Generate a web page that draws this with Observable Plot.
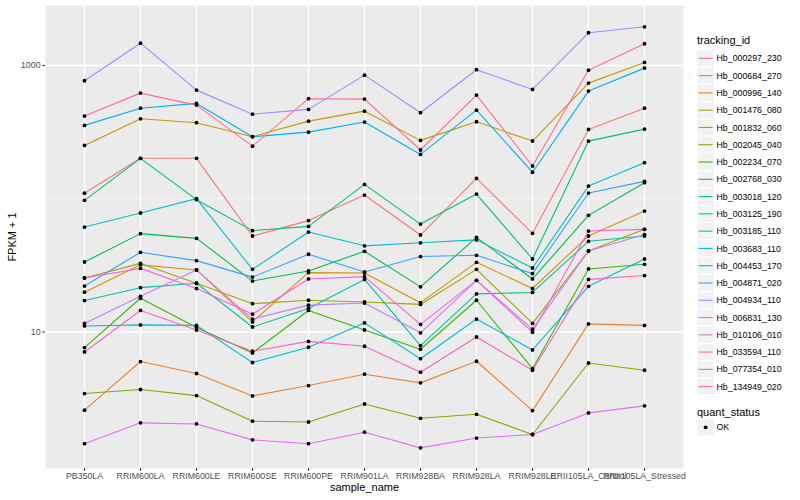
<!DOCTYPE html>
<html>
<head>
<meta charset="utf-8">
<script src="https://cdn.jsdelivr.net/npm/d3@7"></script>
<script src="https://cdn.jsdelivr.net/npm/@observablehq/plot@0.6"></script>
<style>
  html, body { margin: 0; padding: 0; background: white; }
  #wrap { position: relative; width: 800px; height: 500px; font-family: 'Liberation Sans', Arial, sans-serif; }
  #legend { position: absolute; left: 690px; top: 0; }
</style>
</head>
<body>
<div id="wrap"><div id="chart"></div><div id="legend"></div></div>
<script>
const samples = ["PB350LA","RRIM600LA","RRIM600LE","RRIM600SE","RRIM600PE","RRIM901LA","RRIM928BA","RRIM928LA","RRIM928LE","RRII105LA_Control","RRII105LA_Stressed"];

const ids = ["Hb_000297_230","Hb_000684_270","Hb_000996_140","Hb_001476_080","Hb_001832_060","Hb_002045_040","Hb_002234_070","Hb_002768_030","Hb_003018_120","Hb_003125_190","Hb_003185_110","Hb_003683_110","Hb_004453_170","Hb_004871_020","Hb_004934_110","Hb_006831_130","Hb_010106_010","Hb_033594_110","Hb_077354_010","Hb_134949_020"];

const palette = ["#F8766D","#EA8331","#D89000","#C09B00","#A3A500","#7CAE00","#39B600","#00BB4E","#00BF7D","#00C1A3","#00BFC4","#00BAE0","#00B0F6","#35A2FF","#9590FF","#C77CFF","#E76BF3","#FA62DB","#FF62BC","#FF6C91"];

// FPKM + 1 per sample, in the order of `samples`
const Hb_000297_230 = [110, 201, 201, 52.5, 68.5, 106.5, 53.4, 142, 55.0, 331, 478];
const Hb_000684_270 = [2.59, 6.0, 4.88, 3.31, 3.96, 4.82, 4.15, 6.03, 2.57, 11.5, 11.2];
const Hb_000996_140 = [19.9, 31.9, 29.2, 11.9, 27.9, 27.7, 16.6, 33.3, 21.2, 52.5, 80.8];
const Hb_001476_080 = [251, 398, 372, 292, 382, 454, 274, 378, 271, 737, 1053];
const Hb_001832_060 = [25.4, 32.7, 23.2, 16.3, 17.3, 16.8, 16.1, 29.5, 11.6, 40.5, 58.9];
const Hb_002045_040 = [3.45, 3.70, 3.33, 2.14, 2.11, 2.88, 2.25, 2.41, 1.70, 5.85, 5.16];
const Hb_002234_070 = [7.64, 17.9, 10.8, 6.96, 14.5, 10.35, 7.42, 17.3, 5.31, 29.7, 32.2];
const Hb_002768_030 = [33.5, 54.7, 50.4, 24.1, 28.7, 40.3, 21.8, 51.3, 25.0, 75.0, 131.9];
const Hb_003018_120 = [97.2, 200.7, 98.4, 57.6, 62.0, 128.1, 64.5, 108.4, 35.3, 270.6, 333];
const Hb_003125_190 = [17.2, 21.5, 23.2, 10.9, 15.0, 24.8, 7.9, 19.3, 19.8, 47.9, 52.5];
const Hb_003185_110 = [61.3, 78.1, 100.1, 29.5, 56.2, 44.3, 46.7, 49.1, 30.2, 124.4, 186.3];
const Hb_003683_110 = [11.1, 11.3, 11.2, 5.9, 7.68, 11.7, 6.3, 12.5, 7.33, 22.0, 35.3];
const Hb_004453_170 = [355, 478, 519, 292, 316, 376, 215, 462, 158, 642, 955];
const Hb_004871_020 = [22.1, 39.6, 34.3, 25.8, 38.3, 28.2, 36.8, 37.6, 27.4, 110.3, 134.9];
const Hb_004934_110 = [768, 1469, 653, 431, 468, 846, 442, 929, 661, 1759, 1951];
const Hb_006831_130 = [11.6, 18.5, 29.2, 12.5, 15.9, 16.5, 9.86, 24.4, 10.5, 40.5, 53.8];
const Hb_010106_010 = [1.45, 2.08, 2.04, 1.55, 1.45, 1.77, 1.35, 1.60, 1.70, 2.47, 2.79];
const Hb_033594_110 = [25.4, 30.0, 21.2, 13.6, 25.0, 26.0, 11.4, 24.4, 9.95, 57.2, 58.9];
const Hb_077354_010 = [7.08, 14.5, 10.35, 7.17, 8.5, 7.81, 4.99, 9.17, 5.16, 24.8, 26.5];
const Hb_134949_020 = [417, 620, 504, 248, 563, 559, 232, 599, 176, 922, 1455];

const yTicks = [10, 1000];
const yMinor = [100];

const seriesList = [Hb_000297_230, Hb_000684_270, Hb_000996_140, Hb_001476_080, Hb_001832_060, Hb_002045_040, Hb_002234_070, Hb_002768_030, Hb_003018_120, Hb_003125_190, Hb_003185_110, Hb_003683_110, Hb_004453_170, Hb_004871_020, Hb_004934_110, Hb_006831_130, Hb_010106_010, Hb_033594_110, Hb_077354_010, Hb_134949_020];

const rows = [];
ids.forEach((id, i) => samples.forEach((s, j) => rows.push({id, sample: s, fpkm: seriesList[i][j]})));

const font = "'Liberation Sans', Arial, sans-serif";

const chart = Plot.plot({
  width: 800, height: 500,
  marginLeft: 45, marginRight: 117, marginTop: 5, marginBottom: 32,
  style: {fontFamily: font, fontSize: "8.8px", background: "white", overflow: "visible"},
  x: {type: "point", domain: samples, padding: 0.6, axis: null},
  y: {type: "log", domain: [0.945, 2818], axis: null},
  color: {domain: ids, range: palette},
  marks: [
    Plot.frame({fill: "#EBEBEB", stroke: null}),
    Plot.gridY(yMinor, {stroke: "white", strokeOpacity: 1, strokeWidth: 0.7}),
    Plot.gridY(yTicks, {stroke: "white", strokeOpacity: 1, strokeWidth: 1.4}),
    Plot.gridX(samples, {stroke: "white", strokeOpacity: 1, strokeWidth: 1.4}),
    Plot.axisY(yTicks, {tickFormat: d => String(d), tickSize: 2.75, tickPadding: 2.2, stroke: "#333333", fill: "#4D4D4D", fontSize: 8.8, label: null}),
    Plot.axisX(samples, {tickSize: 2.75, tickPadding: 1.5, stroke: "#333333", fill: "#4D4D4D", fontSize: 8.8, label: null}),
    Plot.line(rows, {x: "sample", y: "fpkm", z: "id", stroke: "id", strokeWidth: 1.1}),
    Plot.dot(rows, {x: "sample", y: "fpkm", r: 1.9, fill: "black", stroke: null}),
    Plot.text(["sample_name"], {text: d => d, frameAnchor: "bottom", dy: 22, fontSize: 11, fill: "black"}),
    Plot.text(["FPKM + 1"], {text: d => d, frameAnchor: "left", dx: -33, rotate: -90, textAnchor: "middle", fontSize: 11, fill: "black"})
  ]
});
document.getElementById("chart").appendChild(chart);

// Legend
const key = 17.28;
const lg = d3.select("#legend").append("svg")
  .attr("width", 110).attr("height", 500)
  .style("font-family", font);
lg.append("text").attr("x", 7).attr("y", 44).attr("font-size", 11).text("tracking_id");
const top0 = 49.7;
ids.forEach((id, i) => {
  const y = top0 + i * key;
  lg.append("rect").attr("x", 7).attr("y", y).attr("width", key).attr("height", key)
    .attr("fill", "#F2F2F2").attr("stroke", "white").attr("stroke-width", 1);
  lg.append("line").attr("x1", 8.7).attr("x2", 7 + key - 1.7).attr("y1", y + key / 2).attr("y2", y + key / 2)
    .attr("stroke", palette[i]).attr("stroke-width", 1.1);
  lg.append("text").attr("x", 26.5).attr("y", y + key / 2).attr("dy", "0.35em")
    .attr("font-size", 8.8).attr("fill", "black").text(id);
});
lg.append("text").attr("x", 7).attr("y", 415.5).attr("font-size", 11).text("quant_status");
const okTop = 418.7;
lg.append("rect").attr("x", 7).attr("y", okTop).attr("width", key).attr("height", key)
  .attr("fill", "#F2F2F2").attr("stroke", "white").attr("stroke-width", 1);
lg.append("circle").attr("cx", 7 + key / 2).attr("cy", okTop + key / 2).attr("r", 1.9).attr("fill", "black");
lg.append("text").attr("x", 26.5).attr("y", okTop + key / 2).attr("dy", "0.35em")
  .attr("font-size", 8.8).attr("fill", "black").text("OK");
</script>
</body>
</html>
